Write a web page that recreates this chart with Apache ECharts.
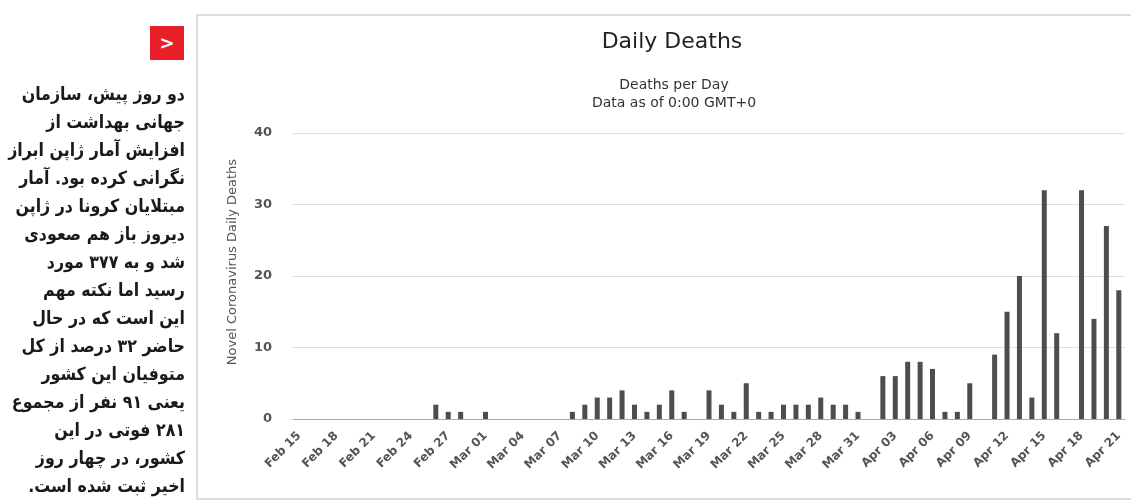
<!DOCTYPE html>
<html>
<head>
<meta charset="utf-8">
<script src="https://cdn.jsdelivr.net/npm/echarts@6/dist/echarts.min.js"></script>
<style>
  html, body { margin: 0; padding: 0; background: #fff; }
  #page { position: relative; width: 1131px; height: 501px; overflow: hidden; }
  #chart { position: absolute; left: 0; top: 0; width: 1131px; height: 501px; }
  #badge {
    position: absolute; left: 150px; top: 26px; width: 34px; height: 34px;
    background: #e8202a; color: #fff; font: bold 18px 'DejaVu Sans', sans-serif;
    line-height: 34px; text-align: center;
  }
  #note {
    position: absolute; left: -15px; top: 80px; width: 200px;
    direction: rtl; text-align: right; white-space: nowrap;
    font: bold 18px/28px 'DejaVu Sans', sans-serif; color: #1a1a1a;
    transform: scaleX(0.88); transform-origin: right top;
  }
</style>
</head>
<body>
<div id="page">
  <div id="chart"></div>
  <div id="badge">&gt;</div>
  <div id="note">
    دو روز پیش، سازمان<br>
    جهانی بهداشت از<br>
    افزایش آمار ژاپن ابراز<br>
    نگرانی کرده بود. آمار<br>
    مبتلایان کرونا در ژاپن<br>
    دیروز باز هم صعودی<br>
    شد و به ۳۷۷ مورد<br>
    رسید اما نکته مهم<br>
    این است که در حال<br>
    حاضر ۳۲ درصد از کل<br>
    متوفیان این کشور<br>
    یعنی ۹۱ نفر از مجموع<br>
    ۲۸۱ فوتی در این<br>
    کشور، در چهار روز<br>
    اخیر ثبت شده است.
  </div>
</div>
<script>
// days shown on the x axis, Feb 15 .. Apr 21 (2020)
let days = [
  'Feb 15', 'Feb 16', 'Feb 17', 'Feb 18', 'Feb 19', 'Feb 20', 'Feb 21', 'Feb 22', 'Feb 23',
  'Feb 24', 'Feb 25', 'Feb 26', 'Feb 27', 'Feb 28', 'Feb 29',
  'Mar 01', 'Mar 02', 'Mar 03', 'Mar 04', 'Mar 05', 'Mar 06', 'Mar 07', 'Mar 08', 'Mar 09',
  'Mar 10', 'Mar 11', 'Mar 12', 'Mar 13', 'Mar 14', 'Mar 15', 'Mar 16', 'Mar 17', 'Mar 18',
  'Mar 19', 'Mar 20', 'Mar 21', 'Mar 22', 'Mar 23', 'Mar 24', 'Mar 25', 'Mar 26', 'Mar 27',
  'Mar 28', 'Mar 29', 'Mar 30', 'Mar 31',
  'Apr 01', 'Apr 02', 'Apr 03', 'Apr 04', 'Apr 05', 'Apr 06', 'Apr 07', 'Apr 08', 'Apr 09',
  'Apr 10', 'Apr 11', 'Apr 12', 'Apr 13', 'Apr 14', 'Apr 15', 'Apr 16', 'Apr 17', 'Apr 18',
  'Apr 19', 'Apr 20', 'Apr 21'
];

// daily deaths
let febDeaths = [0, 0, 0, 0, 0, 0, 0, 0, 0, 0, 0, 2, 1, 1, 0];
let marDeaths = [1, 0, 0, 0, 0, 0, 0, 1, 2, 3, 3, 4, 2, 1, 2, 4, 1, 0, 4, 2, 1, 5, 1, 1, 2, 2, 2, 3, 2, 2, 1];
let aprDeaths = [0, 6, 6, 8, 8, 7, 1, 1, 5, 0, 9, 15, 20, 3, 32, 12, 0, 32, 14, 27, 18];

let yTicks = {min: 0, max: 40, interval: 10};

let titleText = 'Daily Deaths';
let subText = 'Deaths per Day\nData as of 0:00 GMT+0';
let yName = 'Novel Coronavirus Daily Deaths';

let deaths = febDeaths.concat(marDeaths, aprDeaths);
let font = 'DejaVu Sans';

let myChart = echarts.init(document.getElementById('chart'));

myChart.setOption({
  animation: false,
  backgroundColor: 'transparent',
  title: [{
    text: titleText,
    left: 672,
    top: 31,
    textAlign: 'center',
    padding: 0,
    textStyle: {fontFamily: font, fontSize: 22, fontWeight: 'normal', color: '#222'}
  }, {
    text: subText,
    left: 674,
    top: 76,
    textAlign: 'center',
    padding: 0,
    textStyle: {fontFamily: font, fontSize: 14, fontWeight: 'normal', color: '#333', lineHeight: 18}
  }],
  graphic: [{
    type: 'rect',
    shape: {x: 197, y: 15, width: 980, height: 484},
    style: {fill: 'none', stroke: '#dddddd', lineWidth: 2},
    silent: true
  }, {
    type: 'text',
    x: 233,
    y: 262,
    rotation: Math.PI / 2,
    style: {
      text: yName,
      fontFamily: font,
      fontSize: 13,
      fill: '#555',
      align: 'center',
      verticalAlign: 'middle'
    }
  }],
  grid: {left: 293, right: 6, top: 133, bottom: 82},
  xAxis: {
    type: 'category',
    data: days,
    axisLine: {lineStyle: {color: '#aaa'}},
    axisTick: {show: false},
    axisLabel: {
      interval: 2,
      rotate: 45,
      margin: 15,
      fontFamily: font,
      fontSize: 12,
      fontWeight: 'bold',
      color: '#555'
    }
  },
  yAxis: {
    type: 'value',
    min: yTicks.min,
    max: yTicks.max,
    interval: yTicks.interval,
    axisLine: {show: false},
    axisTick: {show: false},
    splitLine: {lineStyle: {color: '#e6dcdc'}},
    axisLabel: {margin: 21, fontFamily: font, fontSize: 13, fontWeight: 'bold', color: '#555'}
  },
  series: [{
    type: 'bar',
    data: deaths,
    barWidth: 5,
    itemStyle: {color: '#4d4d4d'}
  }]
});
</script>
</body>
</html>
